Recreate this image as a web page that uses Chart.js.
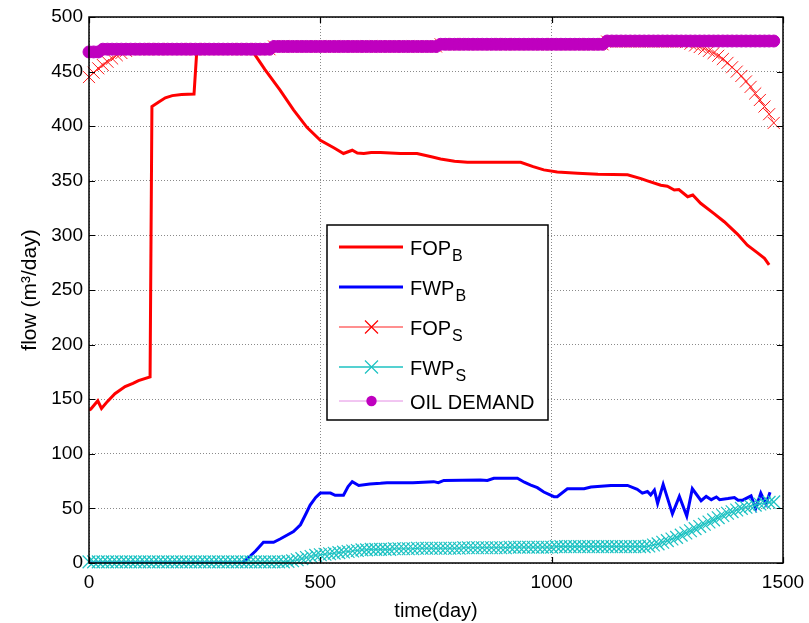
<!DOCTYPE html>
<html>
<head>
<meta charset="utf-8">
<title>flow vs time</title>
<script src="https://cdn.jsdelivr.net/npm/chart.js@4.4.1/dist/chart.umd.min.js"></script>
<style>
    html, body { margin: 0; padding: 0; background: #fff; }
    canvas { display: block; }
</style>
</head>
<body>
<canvas id="flowChart" width="809" height="623"></canvas>
<script>
// ---- data ----

// big-step series (lines only)
const fopBDays = [0, 4, 19, 27, 40, 56, 78, 95, 107, 132, 136, 150, 165, 180, 200, 227, 233, 260, 300, 353,
    380, 413, 442, 471, 500, 530, 550, 569, 580, 594, 610, 630, 673, 709, 740, 760, 790, 818, 900, 933,
    960, 983, 1012, 1056, 1100, 1164, 1193, 1207, 1236, 1250, 1265, 1275, 1294, 1305, 1322, 1351, 1373, 1402, 1423, 1445,
    1460, 1470];
const fopB = [140, 141, 148.5, 141.5, 148, 155, 161.5, 164.5, 167, 170.5, 418, 422, 426, 428, 429, 429.5, 469, 469, 469, 469,
    452, 433, 415, 399, 387, 380, 375, 378, 375.5, 375, 376, 376, 375, 375, 372, 370, 368, 367, 367, 367,
    363, 360, 358, 357, 356, 355.5, 352, 350, 346, 345, 341.6, 342, 335.4, 337, 329.4, 320, 312.5, 301, 291, 284,
    279, 273];

const fwpBDays = [0, 330, 345, 360, 377, 399, 413, 442, 457, 470, 478, 490, 500, 522, 532, 550, 560, 569, 583, 607,
    630, 644, 700, 745, 755, 767, 846, 861, 875, 926, 941, 955, 969, 983, 1005, 1012, 1034, 1070, 1085, 1128,
    1164, 1185, 1196, 1207, 1214, 1222, 1229, 1241, 1261, 1276, 1292, 1304, 1323, 1334, 1345, 1356, 1363, 1381, 1395, 1403,
    1413, 1431, 1441, 1452, 1463, 1472];
const fwpB = [0, 0, 5, 11, 19, 19, 22, 28.7, 35, 46, 53, 60, 64, 64, 62, 62, 70, 74.5, 71, 72.4,
    73, 73.5, 73.5, 74.5, 73.5, 75.6, 76, 75.6, 77.5, 77.6, 74, 71.4, 69, 65, 60.7, 60.7, 68, 68, 69.5, 71,
    71, 67.5, 64, 65.5, 62.4, 66.7, 54.6, 72, 45, 61, 43, 68, 57, 61, 58, 60.5, 58, 59, 60, 57.5,
    57.5, 61.4, 50, 64, 54, 64.7];

// simulated series (dense markers), one value every 10 days
const simDays = [
    0, 10, 20, 30, 40, 50, 60, 70, 80, 90,
    100, 110, 120, 130, 140, 150, 160, 170, 180, 190,
    200, 210, 220, 230, 240, 250, 260, 270, 280, 290,
    300, 310, 320, 330, 340, 350, 360, 370, 380, 390,
    400, 410, 420, 430, 440, 450, 460, 470, 480, 490,
    500, 510, 520, 530, 540, 550, 560, 570, 580, 590,
    600, 610, 620, 630, 640, 650, 660, 670, 680, 690,
    700, 710, 720, 730, 740, 750, 760, 770, 780, 790,
    800, 810, 820, 830, 840, 850, 860, 870, 880, 890,
    900, 910, 920, 930, 940, 950, 960, 970, 980, 990,
    1000, 1010, 1020, 1030, 1040, 1050, 1060, 1070, 1080, 1090,
    1100, 1110, 1120, 1130, 1140, 1150, 1160, 1170, 1180, 1190,
    1200, 1210, 1220, 1230, 1240, 1250, 1260, 1270, 1280, 1290,
    1300, 1310, 1320, 1330, 1340, 1350, 1360, 1370, 1380, 1390,
    1400, 1410, 1420, 1430, 1440, 1450, 1460, 1470, 1480
];
const fopS = [
    445, 449, 453, 456, 459, 462, 465, 467, 469, 470.5,
    470.5, 470.5, 470.5, 470.5, 470.5, 470.5, 470.5, 470.5, 470.5, 470.5,
    470.5, 470.5, 470.5, 470.5, 470.5, 470.5, 470.5, 470.5, 470.5, 470.5,
    470.5, 470.5, 470.5, 470.5, 470.5, 470.5, 470.5, 470.5, 470.5, 470.5,
    473, 473, 473, 473, 473, 473, 473, 473, 473, 473,
    473, 473, 473, 473, 473, 473, 473, 473, 473, 473,
    473, 473, 473, 473, 473, 473, 473, 473, 473, 473,
    473, 473, 473, 473, 473, 473, 475, 475, 475, 475,
    475, 475, 475, 475, 475, 475, 475, 475, 475, 475,
    475, 475, 475, 475, 475, 475, 475, 475, 475, 475,
    475, 475, 475, 475, 475, 475, 475, 475, 475, 475,
    475, 475, 477.5, 477.5, 477.5, 477.5, 477.5, 477.5, 477.5, 477.5,
    477.5, 477.5, 477.5, 477.5, 477.5, 477.5, 477.5, 477.5, 477.5, 477,
    475.5, 474, 472.5, 471, 469, 467, 464.5, 461.5, 458, 454,
    450, 446, 441, 436, 430, 424, 418, 411, 403
];
const fwpS = [
    1, 1, 1, 1, 1, 1, 1, 1, 1, 1,
    1, 1, 1, 1, 1, 1, 1, 1, 1, 1,
    1, 1, 1, 1, 1, 1, 1, 1, 1, 1,
    1, 1, 1, 1, 1, 1, 1, 1, 1, 1,
    1, 1, 1, 1.5, 2, 3, 4, 5, 6, 7,
    7.5, 8, 8.5, 9, 9.5, 10, 10.5, 11, 11.5, 12,
    12, 12.5, 12.5, 12.5, 12.5, 12.5, 13, 13, 13, 13,
    13, 13.5, 13.5, 13.5, 13.5, 13.5, 13.5, 13.5, 13.5, 13.5,
    13.5, 14, 14, 14, 14, 14, 14, 14, 14, 14,
    14, 14.5, 14.5, 14.5, 14.5, 14.5, 14.5, 14.5, 14.5, 14.5,
    14.5, 15, 15, 15, 15, 15, 15, 15, 15, 15,
    15, 15, 15, 15, 15, 15, 15, 15, 15, 15,
    15, 15.5, 16.5, 17.5, 19, 20.5, 22, 23.5, 25.5, 27.5,
    29.5, 31.5, 33.5, 35.5, 37.5, 39.5, 41.5, 43.5, 45.5, 47,
    48.5, 50, 51, 52, 53, 54, 55, 55.5, 56
];
const oilDemand = [
    468, 468, 468, 470.5, 470.5, 470.5, 470.5, 470.5, 470.5, 470.5,
    470.5, 470.5, 470.5, 470.5, 470.5, 470.5, 470.5, 470.5, 470.5, 470.5,
    470.5, 470.5, 470.5, 470.5, 470.5, 470.5, 470.5, 470.5, 470.5, 470.5,
    470.5, 470.5, 470.5, 470.5, 470.5, 470.5, 470.5, 470.5, 470.5, 470.5,
    473, 473, 473, 473, 473, 473, 473, 473, 473, 473,
    473, 473, 473, 473, 473, 473, 473, 473, 473, 473,
    473, 473, 473, 473, 473, 473, 473, 473, 473, 473,
    473, 473, 473, 473, 473, 473, 475, 475, 475, 475,
    475, 475, 475, 475, 475, 475, 475, 475, 475, 475,
    475, 475, 475, 475, 475, 475, 475, 475, 475, 475,
    475, 475, 475, 475, 475, 475, 475, 475, 475, 475,
    475, 475, 478, 478, 478, 478, 478, 478, 478, 478,
    478, 478, 478, 478, 478, 478, 478, 478, 478, 478,
    478, 478, 478, 478, 478, 478, 478, 478, 478, 478,
    478, 478, 478, 478, 478, 478, 478, 478, 478
];

const xTicks = [0, 500, 1000, 1500];
const yTicks = [0, 50, 100, 150, 200, 250, 300, 350, 400, 450, 500];

// helper: pair x/y arrays into points
function toPoints(xs, ys) {
    return xs.map((x, i) => ({ x: x, y: ys[i] }));
}

const FONT = '"Liberation Sans", Arial, sans-serif';

// legend entries (drawn by hand to get the subscripts)
const legendEntries = [
    { main: 'FOP', sub: 'B', line: '#ff0000', lineWidth: 3, marker: null, y: 247 },
    { main: 'FWP', sub: 'B', line: '#0000ff', lineWidth: 3, marker: null, y: 287 },
    { main: 'FOP', sub: 'S', line: '#ff6a6a', lineWidth: 1.5, marker: 'cross', markerColor: '#ff0000', y: 327 },
    { main: 'FWP', sub: 'S', line: '#1cc2c2', lineWidth: 1.5, marker: 'cross', markerColor: '#1cc2c2', y: 367 },
    { main: 'OIL DEMAND', sub: '', line: '#e48ce4', lineWidth: 1, marker: 'dot', markerColor: '#bf00bf', y: 401 }
];

// box with inward ticks + legend, drawn on top like matlab does
const frameAndLegend = {
    id: 'frameAndLegend',
    afterDraw(chart) {
        const ctx = chart.ctx;
        const a = chart.chartArea;
        const xs = chart.scales.x;
        const ys = chart.scales.y;
        ctx.save();

        // box
        ctx.strokeStyle = '#000';
        ctx.lineWidth = 1.5;
        ctx.strokeRect(a.left, a.top, a.right - a.left, a.bottom - a.top);

        // inward ticks
        ctx.lineWidth = 1.2;
        ctx.beginPath();
        xTicks.forEach(v => {
            const px = Math.round(xs.getPixelForValue(v)) + 0.5;
            ctx.moveTo(px, a.bottom); ctx.lineTo(px, a.bottom - 6);
            ctx.moveTo(px, a.top); ctx.lineTo(px, a.top + 6);
        });
        yTicks.forEach(v => {
            const py = Math.round(ys.getPixelForValue(v)) + 0.5;
            ctx.moveTo(a.left, py); ctx.lineTo(a.left + 6, py);
            ctx.moveTo(a.right, py); ctx.lineTo(a.right - 6, py);
        });
        ctx.stroke();

        // legend box
        const bx = 327, by = 225, bw = 221, bh = 195;
        ctx.fillStyle = '#fff';
        ctx.fillRect(bx, by, bw, bh);
        ctx.lineWidth = 1.5;
        ctx.strokeStyle = '#000';
        ctx.strokeRect(bx, by, bw, bh);

        legendEntries.forEach(e => {
            ctx.strokeStyle = e.line;
            ctx.lineWidth = e.lineWidth;
            ctx.beginPath();
            ctx.moveTo(339, e.y);
            ctx.lineTo(403, e.y);
            ctx.stroke();

            if (e.marker === 'cross') {
                ctx.strokeStyle = e.markerColor;
                ctx.lineWidth = 1.2;
                ctx.beginPath();
                ctx.moveTo(365, e.y - 6.5); ctx.lineTo(378, e.y + 6.5);
                ctx.moveTo(365, e.y + 6.5); ctx.lineTo(378, e.y - 6.5);
                ctx.stroke();
            } else if (e.marker === 'dot') {
                ctx.fillStyle = e.markerColor;
                ctx.beginPath();
                ctx.arc(371.5, e.y, 5.2, 0, Math.PI * 2);
                ctx.fill();
            }

            ctx.fillStyle = '#000';
            ctx.textBaseline = 'alphabetic';
            ctx.textAlign = 'left';
            ctx.font = '20px ' + FONT;
            ctx.fillText(e.main, 410, e.y + 7.5);
            if (e.sub) {
                const w = ctx.measureText(e.main).width;
                ctx.font = '16px ' + FONT;
                ctx.fillText(e.sub, 410 + w + 1, e.y + 13.5);
            }
        });

        ctx.restore();
    }
};

const ctx = document.getElementById('flowChart').getContext('2d');
const flowChart = new Chart(ctx, {
    type: 'line',
    data: {
        datasets: [
            {
                label: 'FOP_B',
                data: toPoints(fopBDays, fopB),
                borderColor: '#ff0000',
                borderWidth: 3,
                pointRadius: 0,
                tension: 0,
                order: 5
            },
            {
                label: 'FWP_B',
                data: toPoints(fwpBDays, fwpB),
                borderColor: '#0000ff',
                borderWidth: 3,
                pointRadius: 0,
                tension: 0,
                order: 4
            },
            {
                label: 'FOP_S',
                data: toPoints(simDays, fopS),
                borderColor: 'rgba(255,0,0,0.6)',
                borderWidth: 1,
                pointStyle: 'crossRot',
                pointRadius: 8.5,
                pointBorderColor: '#ff1a1a',
                pointBorderWidth: 1,
                tension: 0,
                clip: false,
                order: 3
            },
            {
                label: 'FWP_S',
                data: toPoints(simDays, fwpS),
                borderColor: '#1cc2c2',
                borderWidth: 1,
                pointStyle: 'crossRot',
                pointRadius: 9,
                pointBorderColor: '#1cc2c2',
                pointBorderWidth: 1.2,
                tension: 0,
                clip: false,
                order: 2
            },
            {
                label: 'OIL DEMAND',
                data: toPoints(simDays, oilDemand),
                borderColor: '#e48ce4',
                borderWidth: 1,
                pointStyle: 'circle',
                pointRadius: 6,
                pointBackgroundColor: '#bf00bf',
                pointBorderColor: '#bf00bf',
                pointBorderWidth: 1,
                tension: 0,
                clip: false,
                order: 1
            }
        ]
    },
    options: {
        responsive: false,
        animation: false,
        devicePixelRatio: 1,
        layout: {
            padding: { top: 17, right: 26, left: 0, bottom: 0 }
        },
        plugins: {
            legend: { display: false },
            tooltip: { enabled: false }
        },
        scales: {
            x: {
                type: 'linear',
                min: 0,
                max: 1500,
                afterBuildTicks: scale => { scale.ticks = xTicks.map(v => ({ value: v })); },
                ticks: {
                    color: '#000',
                    font: { family: FONT, size: 19 },
                    padding: 8,
                    maxRotation: 0,
                    callback: v => String(v)
                },
                grid: { color: '#8a8a8a', lineWidth: 1, drawTicks: false },
                border: { display: false, dash: [1, 2] },
                title: {
                    display: true,
                    text: 'time(day)',
                    color: '#000',
                    font: { family: FONT, size: 20 },
                    padding: { top: 6, bottom: 0 }
                },
                afterFit: scale => {
                    scale.height = 60;
                    scale.paddingLeft = 0;
                    scale.paddingRight = 0;
                }
            },
            y: {
                min: 0,
                max: 500,
                afterBuildTicks: scale => { scale.ticks = yTicks.map(v => ({ value: v })); },
                ticks: {
                    color: '#000',
                    font: { family: FONT, size: 19 },
                    padding: 6,
                    callback: v => String(v)
                },
                grid: { color: '#8a8a8a', lineWidth: 1, drawTicks: false },
                border: { display: false, dash: [1, 2] },
                title: {
                    display: true,
                    text: 'flow (m³/day)',
                    color: '#000',
                    font: { family: FONT, size: 21 },
                    padding: { top: 18, bottom: 0 }
                },
                afterFit: scale => {
                    scale.width = 89;
                    scale.paddingTop = 0;
                    scale.paddingBottom = 0;
                }
            }
        }
    },
    plugins: [frameAndLegend]
});
</script>
</body>
</html>
